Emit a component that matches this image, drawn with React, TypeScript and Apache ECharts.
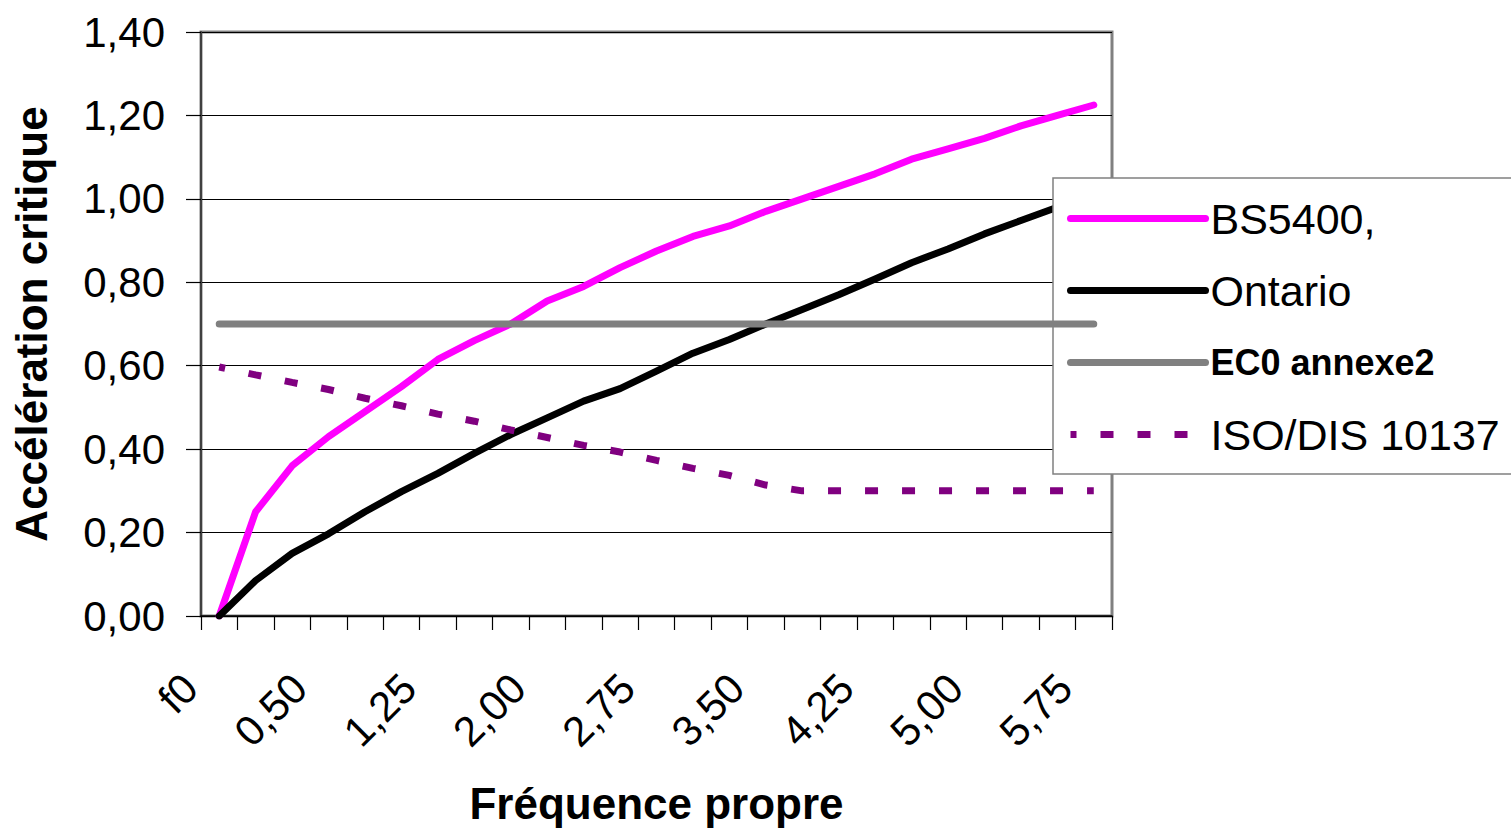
import React, { useEffect, useRef } from "react";
import * as echarts from "echarts";

const FONT = "'Liberation Sans', Arial, Helvetica, sans-serif";

const categories = [
  "f0", "0,00", "0,25", "0,50", "0,75", "1,00", "1,25", "1,50", "1,75",
  "2,00", "2,25", "2,50", "2,75", "3,00", "3,25", "3,50", "3,75", "4,00",
  "4,25", "4,50", "4,75", "5,00", "5,25", "5,50", "5,75",
];

const seriesNames = ["BS5400,", "Ontario", "EC0 annexe2", "ISO/DIS 10137"];

const bs5400 = [
  0.0, 0.25, 0.36, 0.43, 0.49, 0.55, 0.615, 0.66, 0.7, 0.755, 0.79, 0.835,
  0.875, 0.91, 0.935, 0.97, 1.0, 1.03, 1.06, 1.095, 1.12, 1.145, 1.175, 1.2, 1.225,
];

const ontario = [
  0.0, 0.085, 0.15, 0.197, 0.25, 0.298, 0.342, 0.39, 0.435, 0.475, 0.515, 0.545,
  0.587, 0.63, 0.663, 0.7, 0.735, 0.77, 0.808, 0.847, 0.88, 0.916, 0.948, 0.98, 1.01,
];

const ec0 = [
  0.7, 0.7, 0.7, 0.7, 0.7, 0.7, 0.7, 0.7, 0.7, 0.7, 0.7, 0.7,
  0.7, 0.7, 0.7, 0.7, 0.7, 0.7, 0.7, 0.7, 0.7, 0.7, 0.7, 0.7, 0.7,
];

const iso = [
  0.597, 0.578, 0.56, 0.543, 0.522, 0.504, 0.484, 0.467, 0.446, 0.428, 0.409, 0.393,
  0.373, 0.354, 0.337, 0.314, 0.3, 0.3, 0.3, 0.3, 0.3, 0.3, 0.3, 0.3, 0.3,
];

const yMin = 0;
const yMax = 1.4;
const yStep = 0.2;

const colors = ["#FF00FF", "#000000", "#808080", "#800080"];

export default function App() {
  const ref = useRef<HTMLDivElement>(null);

  useEffect(() => {
    if (!ref.current) return;
    const chart = echarts.init(ref.current, undefined, { renderer: "svg" });
    const dataSets = [bs5400, ontario, ec0, iso];
    chart.setOption({
      animation: false,
      backgroundColor: "#ffffff",
      textStyle: { fontFamily: FONT },
      grid: {
        left: 201,
        right: 399,
        top: 32,
        bottom: 213,
        show: true,
        borderColor: "#808080",
        borderWidth: 3,
        backgroundColor: "transparent",
      },
      legend: {
        orient: "vertical",
        left: 1053,
        top: 178,
        itemWidth: 135,
        itemHeight: 20,
        itemGap: 29,
        padding: [19, 20, 18, 14],
        backgroundColor: "#ffffff",
        borderColor: "#808080",
        borderWidth: 1.5,
        borderRadius: 0,
        selectedMode: false,
        lineStyle: { width: 7 },
        itemStyle: { opacity: 0, borderWidth: 0 },
        textStyle: { fontSize: 43, fontFamily: FONT, color: "#000", lineHeight: 43 },
        data: [
          { name: seriesNames[0] },
          { name: seriesNames[1] },
          { name: seriesNames[2], textStyle: { fontSize: 36, fontWeight: "bold", lineHeight: 43 } },
          { name: seriesNames[3] },
        ],
      },
      xAxis: {
        type: "category",
        data: categories,
        boundaryGap: true,
        axisLine: { show: true, lineStyle: { color: "#000", width: 1.5 } },
        axisTick: { show: true, interval: 0, length: 14, lineStyle: { color: "#000", width: 1.2 } },
        axisLabel: {
          interval: 2,
          rotate: 45,
          fontSize: 42,
          margin: 36,
          padding: [0, 41, 0, 0],
          color: "#000",
          fontFamily: FONT,
        },
        splitLine: { show: false },
        name: "Fréquence propre",
        nameLocation: "middle",
        nameGap: 165,
        nameTextStyle: { fontSize: 44, fontWeight: "bold", color: "#000", fontFamily: FONT },
      },
      yAxis: {
        type: "value",
        min: yMin,
        max: yMax,
        interval: yStep,
        axisLine: { show: true, lineStyle: { color: "#404040", width: 2 } },
        axisTick: { show: true, length: 15, lineStyle: { color: "#000", width: 1.2 } },
        axisLabel: {
          fontSize: 42,
          margin: 36,
          color: "#000",
          fontFamily: FONT,
          formatter: (v: number) => v.toFixed(2).replace(".", ","),
        },
        splitLine: { show: true, lineStyle: { color: "#000", width: 1 } },
        name: "Accélération critique",
        nameLocation: "middle",
        nameGap: 148,
        nameRotate: 90,
        nameTextStyle: { fontSize: 44, fontWeight: "bold", color: "#000", fontFamily: FONT },
      },
      series: dataSets.map((d, i) => ({
        name: seriesNames[i],
        type: "line",
        data: d,
        symbol: "none",
        color: colors[i],
        lineStyle:
          i === 3
            ? { color: colors[i], width: 7, type: [13, 24], dashOffset: 6.5, cap: "butt" }
            : { color: colors[i], width: 7, cap: "round", join: "round" },
        z: 2 + i,
      })),
    });
    return () => chart.dispose();
  }, []);

  return (
    <div
      ref={ref}
      style={{ position: "fixed", left: 0, top: 0, width: 1511, height: 830, background: "#fff" }}
    />
  );
}
